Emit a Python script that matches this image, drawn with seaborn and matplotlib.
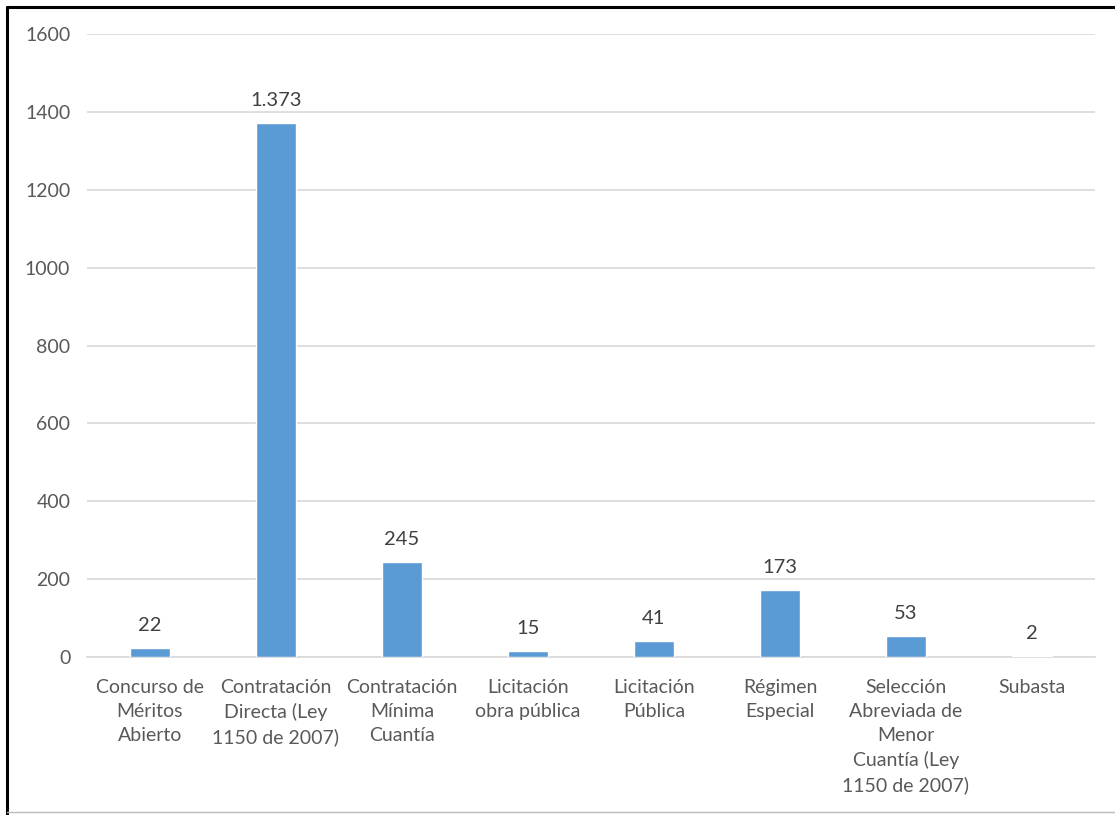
import matplotlib
matplotlib.use("Agg")
import matplotlib.pyplot as plt
import seaborn as sns
import pandas as pd
from matplotlib.lines import Line2D

categories = [
    "Concurso de\nMéritos\nAbierto",
    "Contratación\nDirecta (Ley\n1150 de 2007)",
    "Contratación\nMínima\nCuantía",
    "Licitación\nobra pública",
    "Licitación\nPública",
    "Régimen\nEspecial",
    "Selección\nAbreviada de\nMenor\nCuantía (Ley\n1150 de 2007)",
    "Subasta",
]
values = [22, 1373, 245, 15, 41, 173, 53, 2]
yticks = [0, 200, 400, 600, 800, 1000, 1200, 1400, 1600]

sns.set_theme(style="white")
plt.rcParams['font.family'] = ['Lato', 'DejaVu Sans']

df = pd.DataFrame({"cat": categories, "val": values})

fig = plt.figure(figsize=(11.15, 8.15), dpi=100)
ax = fig.add_axes([0.078, 0.194, 0.904, 0.764])

sns.barplot(data=df, x="cat", y="val", color="#5B9BD5", width=0.32,
            saturation=1, ax=ax, zorder=3)

ax.set_ylim(0, 1600)
ax.set_yticks(yticks)
ax.set_yticklabels([str(t) for t in yticks])
ax.yaxis.grid(True, color="#D9D9D9", linewidth=1.2, zorder=0)
ax.set_xticks(range(len(categories)))
ax.set_xticklabels(categories, linespacing=1.48, va="top")
ax.set_xlim(-0.5, len(categories) - 0.5)
for s in ["top", "right", "left"]:
    ax.spines[s].set_visible(False)
ax.spines["bottom"].set_color("#D9D9D9")
ax.spines["bottom"].set_linewidth(1.2)
ax.set_xlabel("")
ax.set_ylabel("")
ax.tick_params(axis="y", length=0, pad=12, labelsize=14, labelcolor="#595959")
ax.tick_params(axis="x", length=0, pad=16, labelsize=14, labelcolor="#595959")

def fmt(v):
    return f"{v:,}".replace(",", ".")

ax.bar_label(ax.containers[0], labels=[fmt(v) for v in values],
             padding=10, fontsize=14.5, color="#404040")

# outer frame
fig.add_artist(Line2D([0.0065, 0.0065], [0.0, 0.9915], transform=fig.transFigure,
                      color="black", linewidth=2.2))
fig.add_artist(Line2D([0.0065, 1.0], [0.9915, 0.9915], transform=fig.transFigure,
                      color="black", linewidth=2.2))
fig.add_artist(Line2D([0.0065, 1.0], [0.004, 0.004], transform=fig.transFigure,
                      color="#BBBBBB", linewidth=1.0))

fig.savefig("out.png", dpi=100)
